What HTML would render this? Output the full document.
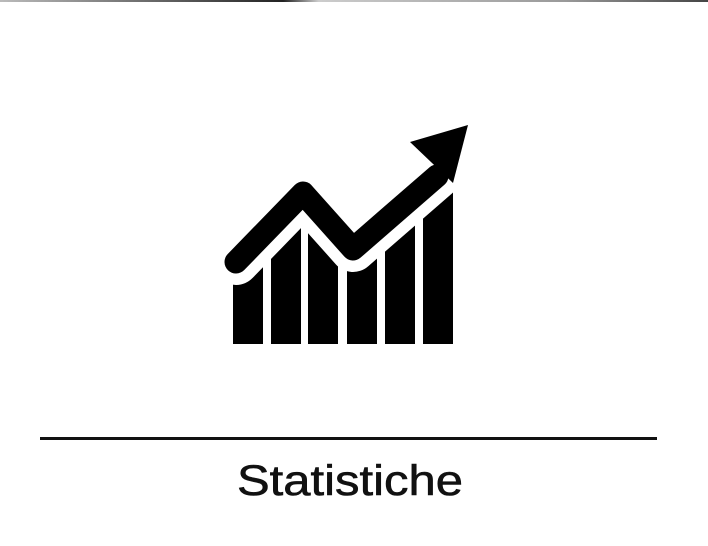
<!DOCTYPE html>
<html><head><meta charset="utf-8"><style>
html,body{margin:0;padding:0;background:#fff;width:708px;height:546px;overflow:hidden}
</style></head><body>
<svg width="708" height="546" viewBox="0 0 708 546" xmlns="http://www.w3.org/2000/svg">
  <defs>
    <linearGradient id="tb" x1="0" x2="1">
      <stop offset="0" stop-color="#bbb"/><stop offset="0.4" stop-color="#222"/><stop offset="0.45" stop-color="#ccc"/><stop offset="0.8" stop-color="#999"/><stop offset="1" stop-color="#444"/>
    </linearGradient>
  </defs>
  <rect x="0" y="0" width="708" height="2" fill="url(#tb)"/>
  <g id="icon"></g>
  <rect x="40" y="437" width="617" height="3" fill="#111"/>
  <text x="350" y="495" text-anchor="middle" font-family="Liberation Sans, sans-serif" font-size="43" fill="#111" stroke="#111" stroke-width="0.6" textLength="226" lengthAdjust="spacingAndGlyphs">Statistiche</text>
</svg>
<script>
const barLefts = [233, 271, 308, 347, 385, 423];
const barWidth = 30;
const barBottom = 344;
const lineX = [236, 303, 353, 437];
const lineY = [262, 193, 249, 176];
const NS = 'http://www.w3.org/2000/svg';
const g = document.getElementById('icon');
barLefts.forEach((x, i) => {
  const r = document.createElementNS(NS, 'rect');
  r.setAttribute('x', x); r.setAttribute('y', 170);
  r.setAttribute('width', barWidth); r.setAttribute('height', barBottom - 170);
  r.setAttribute('fill', '#000');
  
  
  g.appendChild(r);
});
const pts = lineX.map((x, i) => x + ',' + lineY[i]).join(' ');
const mask = document.createElementNS(NS, 'polygon');
mask.setAttribute('points', '200,' + lineY[0] + ' ' + pts + ' 470,150 470,100 200,100');
mask.setAttribute('fill', '#fff');


g.appendChild(mask);
const gap = document.createElementNS(NS, 'polyline');
gap.setAttribute('points', pts);
gap.setAttribute('fill', 'none'); gap.setAttribute('stroke', '#fff');
gap.setAttribute('stroke-width', '46'); gap.setAttribute('stroke-linejoin', 'round'); gap.setAttribute('stroke-linecap', 'round');


g.appendChild(gap);
const ln = document.createElementNS(NS, 'polyline');
ln.setAttribute('points', pts);
ln.setAttribute('fill', 'none'); ln.setAttribute('stroke', '#000');
ln.setAttribute('stroke-width', '23'); ln.setAttribute('stroke-linejoin', 'round'); ln.setAttribute('stroke-linecap', 'round');


g.appendChild(ln);
const head = document.createElementNS(NS, 'polygon');
head.setAttribute('points', '468,125 410,142 453,183');
head.setAttribute('fill', '#000');


g.appendChild(head);
</script>
</body></html>
